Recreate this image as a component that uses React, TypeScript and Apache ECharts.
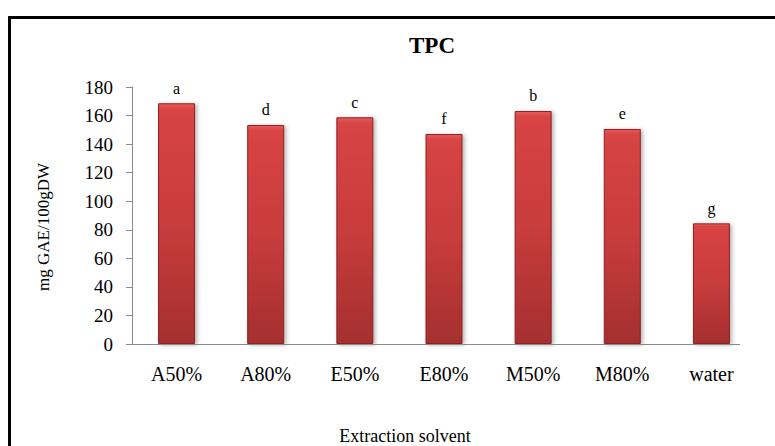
import React, { useEffect, useRef } from "react";
import * as echarts from "echarts";

const categories = ["A50%", "A80%", "E50%", "E80%", "M50%", "M80%", "water"];
const values = [168.6, 153.4, 158.8, 147.1, 163.2, 150.6, 84.5];
const letters = ["a", "d", "c", "f", "b", "e", "g"];
const yTicks = { min: 0, max: 180, interval: 20 };
const titleText = "TPC";
const xName = "Extraction solvent";
const yName = "mg GAE/100gDW";

const FONT = "'Liberation Serif', 'Times New Roman', serif";

export default function App() {
  const ref = useRef<HTMLDivElement>(null);
  useEffect(() => {
    if (!ref.current) return;
    const chart = echarts.init(ref.current, undefined, { renderer: "svg" });
    chart.setOption({
      animation: false,
      backgroundColor: "#ffffff",
      grid: { left: 132, width: 624, top: 87, bottom: 102, containLabel: false },
      xAxis: {
        type: "category",
        data: categories,
        axisLine: { show: false },
        axisTick: { show: false },
        axisLabel: { color: "#000", fontFamily: FONT, fontSize: 20, margin: 20 },
      },
      yAxis: {
        type: "value",
        min: yTicks.min,
        max: yTicks.max,
        interval: yTicks.interval,
        axisLine: { show: true, lineStyle: { color: "#8a8a8a", width: 1 } },
        axisTick: { show: true, length: 6, lineStyle: { color: "#8a8a8a" } },
        splitLine: { show: false },
        axisLabel: { color: "#000", fontFamily: FONT, fontSize: 19, margin: 19 },
      },
      series: [
        {
          type: "bar",
          data: values,
          barWidth: 37,
          itemStyle: {
            color: new echarts.graphic.LinearGradient(0, 0, 0, 1, [
              { offset: 0, color: "#e85a5a" },
              { offset: 0.025, color: "#d84444" },
              { offset: 0.5, color: "#c83c3c" },
              { offset: 1, color: "#a52f2e" },
            ]),
            borderColor: "#8a2222",
            borderWidth: 1,
            shadowColor: "rgba(0,0,0,0.3)",
            shadowBlur: 4,
            shadowOffsetX: 2,
            shadowOffsetY: 1,
          },
          label: {
            show: true,
            position: "top",
            distance: 7,
            color: "#000",
            fontFamily: FONT,
            fontSize: 16,
            formatter: (p: any) => letters[p.dataIndex],
          },
        },
      ],
      graphic: [
        {
          type: "rect",
          shape: { x: 9.5, y: 17.5, width: 820, height: 500 },
          style: { fill: "none", stroke: "#000", lineWidth: 3 },
          silent: true,
          z: 10,
        },
        {
          type: "line",
          shape: { x1: 132, y1: 344.5, x2: 740, y2: 344.5 },
          style: { stroke: "#8a8a8a", lineWidth: 1 },
          z: 5,
        },
        {
          type: "text",
          x: 432,
          y: 45,
          style: {
            text: titleText,
            fontFamily: FONT,
            fontSize: 23,
            fontWeight: "bold",
            fill: "#000",
            align: "center",
            verticalAlign: "middle",
          },
        },
        {
          type: "text",
          x: 405,
          y: 436,
          style: {
            text: xName,
            fontFamily: FONT,
            fontSize: 18,
            fill: "#000",
            align: "center",
            verticalAlign: "middle",
          },
        },
        {
          type: "text",
          x: 43,
          y: 227,
          rotation: Math.PI / 2,
          style: {
            text: yName,
            fontFamily: FONT,
            fontSize: 17,
            fill: "#000",
            align: "center",
            verticalAlign: "middle",
          },
        },
      ],
    });
    return () => chart.dispose();
  }, []);
  return (
    <div
      ref={ref}
      style={{ position: "fixed", left: 0, top: 0, width: 775, height: 446, background: "#fff" }}
    />
  );
}
